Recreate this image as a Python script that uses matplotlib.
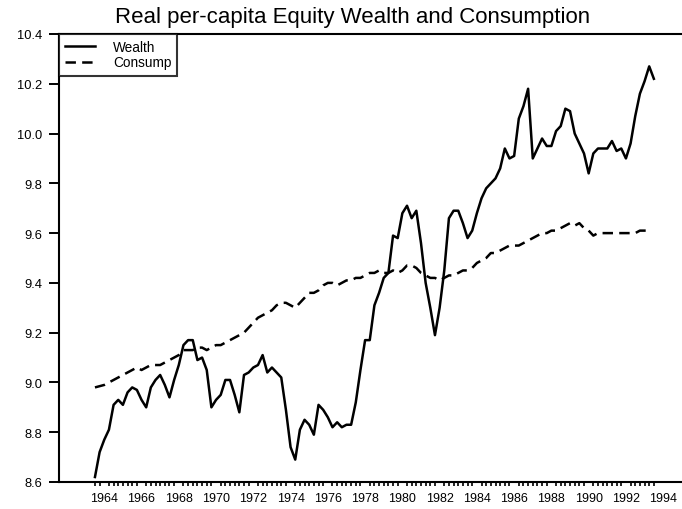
import numpy as np
import matplotlib
matplotlib.use("Agg")
from matplotlib import pyplot as plt

# quarterly data, first observation 1964Q1
start_year = 1964
wealth = [
    8.62, 8.72, 8.77, 8.81, 8.91, 8.93, 8.91, 8.96, 8.98, 8.97,
    8.93, 8.90, 8.98, 9.01, 9.03, 8.99, 8.94, 9.01, 9.07, 9.15,
    9.17, 9.17, 9.09, 9.10, 9.05, 8.90, 8.93, 8.95, 9.01, 9.01,
    8.95, 8.88, 9.03, 9.04, 9.06, 9.07, 9.11, 9.04, 9.06, 9.04,
    9.02, 8.89, 8.74, 8.69, 8.81, 8.85, 8.83, 8.79, 8.91, 8.89,
    8.86, 8.82, 8.84, 8.82, 8.83, 8.83, 8.92, 9.05, 9.17, 9.17,
    9.31, 9.36, 9.42, 9.44, 9.59, 9.58, 9.68, 9.71, 9.66, 9.69,
    9.56, 9.40, 9.30, 9.19, 9.30, 9.45, 9.66, 9.69, 9.69, 9.64,
    9.58, 9.61, 9.68, 9.74, 9.78, 9.80, 9.82, 9.86, 9.94, 9.90,
    9.91, 10.06, 10.11, 10.18, 9.90, 9.94, 9.98, 9.95, 9.95, 10.01,
    10.03, 10.10, 10.09, 10.00, 9.96, 9.92, 9.84, 9.92, 9.94, 9.94,
    9.94, 9.97, 9.93, 9.94, 9.90, 9.96, 10.07, 10.16, 10.21, 10.27,
    10.22,
]
consump = [
    8.98, 8.985, 8.99, 9.00, 9.01, 9.02, 9.03, 9.04, 9.05, 9.06,
    9.05, 9.06, 9.07, 9.07, 9.07, 9.08, 9.09, 9.10, 9.11, 9.13,
    9.13, 9.13, 9.14, 9.14, 9.13, 9.14, 9.15, 9.15, 9.16, 9.17,
    9.18, 9.19, 9.20, 9.22, 9.24, 9.26, 9.27, 9.28, 9.29, 9.31,
    9.32, 9.32, 9.31, 9.30, 9.32, 9.34, 9.36, 9.36, 9.37, 9.39,
    9.40, 9.40, 9.39, 9.40, 9.41, 9.41, 9.42, 9.42, 9.43, 9.44,
    9.44, 9.45, 9.44, 9.44, 9.45, 9.44, 9.45, 9.47, 9.47, 9.46,
    9.44, 9.43, 9.42, 9.42, 9.41, 9.42, 9.43, 9.43, 9.44, 9.45,
    9.45, 9.46, 9.48, 9.49, 9.50, 9.52, 9.52, 9.53, 9.54, 9.55,
    9.55, 9.55, 9.56, 9.57, 9.58, 9.59, 9.60, 9.60, 9.61, 9.61,
    9.62, 9.63, 9.64, 9.63, 9.64, 9.62, 9.61, 9.59, 9.60, 9.60,
    9.60, 9.60, 9.60, 9.60, 9.60, 9.60, 9.60, 9.61, 9.61, 9.61,
]
year_labels = list(range(1964, 1995, 2))
yticks = [8.6, 8.8, 9.0, 9.2, 9.4, 9.6, 9.8, 10.0, 10.2, 10.4]

t_w = start_year + np.arange(len(wealth)) / 4.0
t_c = start_year + np.arange(len(consump)) / 4.0

plt.rcParams["font.family"] = ["Liberation Sans", "DejaVu Sans"]
plt.rcParams["lines.scale_dashes"] = False

fig = plt.figure(figsize=(6.82, 5.10), dpi=100)
ax = fig.add_axes([59 / 682, 27 / 510, 623 / 682, 448 / 510])

ax.plot(t_w, wealth, color="black", lw=1.8, label="Wealth")
ax.plot(t_c, consump, color="black", lw=1.8, dashes=(7.5, 4.5), label="Consump")

ax.set_xlim(1962.07, 1995.51)
ax.set_ylim(8.6, 10.4)

ax.set_yticks(yticks)
ax.set_yticklabels([f"{v:.1f}" for v in yticks])
ax.set_xticks([y + 0.5 for y in year_labels])
ax.set_xticklabels([str(y) for y in year_labels])
ax.set_xticks(np.arange(1964, 1994.01, 0.25), minor=True)

ax.tick_params(axis="x", which="major", length=0, pad=7, labelsize=9)
ax.tick_params(axis="x", which="minor", length=3, width=1.2, direction="out")
ax.tick_params(axis="y", length=7, width=1.4, pad=5, labelsize=9.3)

for side in ["left", "bottom", "top"]:
    ax.spines[side].set_linewidth(1.5)
ax.spines["right"].set_visible(False)

leg = ax.legend(loc="upper left", borderaxespad=0, fancybox=False,
                edgecolor="black", fontsize=9.8, handlelength=2.2,
                handletextpad=1.3, labelspacing=0.1, borderpad=0.45)
leg.get_frame().set_linewidth(1.5)

fig.text(353 / 682, 1 - 23 / 510, "Real per-capita Equity Wealth and Consumption",
         ha="center", va="baseline", fontsize=16)

fig.savefig("out.png", dpi=100)
